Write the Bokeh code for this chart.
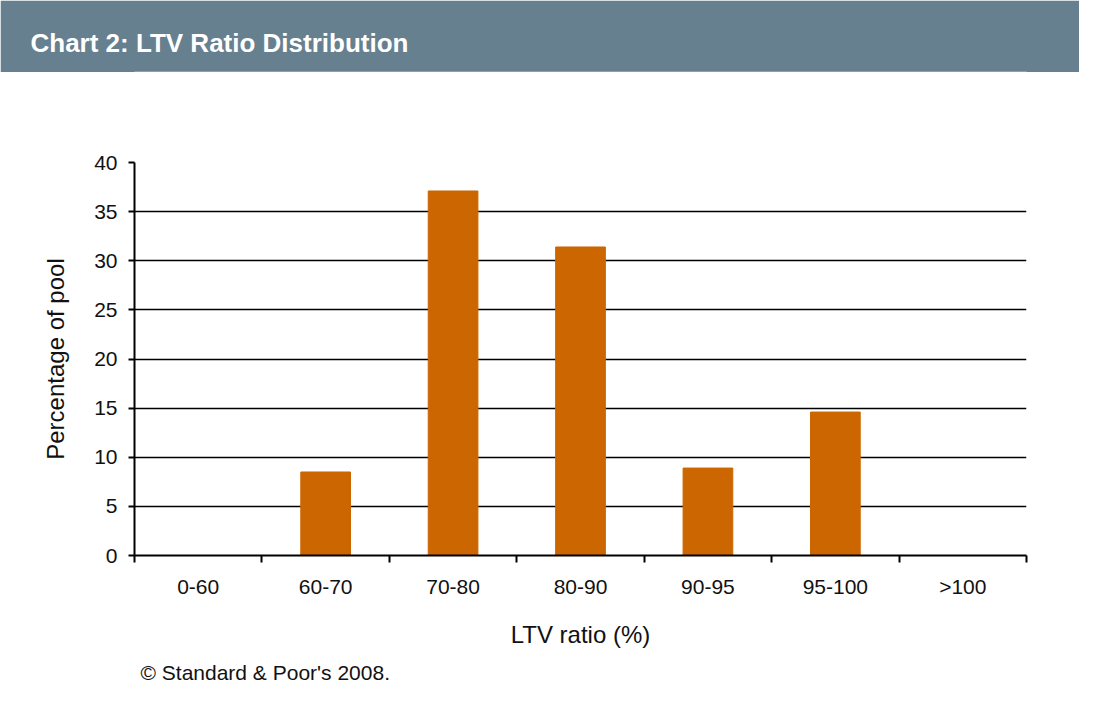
from bokeh.plotting import figure
from bokeh.models import FixedTicker, Range1d, ColumnDataSource, Title
from bokeh.layouts import column
from bokeh.embed import file_html
from bokeh.resources import INLINE

categories = ["0-60", "60-70", "70-80", "80-90", "90-95", "95-100", ">100"]
values = [0.0, 8.5, 37.1, 31.4, 8.9, 14.6, 0.0]
y_ticks = [0, 5, 10, 15, 20, 25, 30, 35, 40]

title_text = "Chart 2: LTV Ratio Distribution"
x_label = "LTV ratio (%)"
y_label = "Percentage of pool"
source_text = "\u00a9 Standard & Poor's 2008."

BAR = "#CC6600"
HEAD = "#66808F"
FONT = "Liberation Sans"

W = 1079
LEFT, RIGHT = 134, 1026
HEAD_H = 72

# Title bar: a figure whose frame is squeezed to the bottom edge, title in the top panel
head = figure(width=W, frame_height=1, x_range=Range1d(0, 1), y_range=Range1d(0, 1),
              output_backend="svg", toolbar_location=None,
              min_border_top=HEAD_H - 1, min_border_bottom=0)
head.axis.visible = False
head.grid.visible = False
head.outline_line_color = None
head.background_fill_color = HEAD
head.border_fill_color = HEAD
head.title = Title(text=title_text, align="left", offset=30 - LEFT, standoff=28,
                   text_color="white", text_font_style="bold", text_font_size="26px",
                   text_font=FONT)

# Main chart
n = len(categories)
xs = [i + 0.5 for i in range(n)]
src = ColumnDataSource(dict(x=xs, top=values, cat=categories))

p = figure(width=W, height=645, x_range=Range1d(0, n), y_range=Range1d(0, 40),
           output_backend="svg", toolbar_location=None,
           min_border_left=LEFT, min_border_right=W - RIGHT, min_border_top=162 - HEAD_H,
           min_border_bottom=645 - (162 - HEAD_H) - (555 - 162))
p.outline_line_color = None
p.background_fill_color = "white"
p.border_fill_color = "white"

p.vbar(x="x", top="top", width=0.39, source=src, fill_color=BAR, line_color=BAR)

p.xgrid.visible = False
p.ygrid.ticker = FixedTicker(ticks=y_ticks)
p.ygrid.grid_line_color = "black"
p.ygrid.grid_line_width = 1.6

p.yaxis.ticker = FixedTicker(ticks=y_ticks)
p.yaxis.major_tick_out = 6
p.yaxis.major_tick_in = 0
p.yaxis.minor_tick_line_color = None
p.yaxis.axis_line_width = 2
p.yaxis.major_tick_line_width = 2
p.yaxis.axis_line_color = "black"
p.yaxis.major_tick_line_color = "black"
p.yaxis.major_label_standoff = 11
p.yaxis.axis_label = y_label
p.yaxis.axis_label_standoff = 22

p.xaxis.ticker = FixedTicker(ticks=xs, minor_ticks=list(range(n + 1)))
p.xaxis.major_label_overrides = {x: c for x, c in zip(xs, categories)}
p.xaxis.major_tick_line_color = None
p.xaxis.major_tick_out = 7
p.xaxis.minor_tick_line_color = "black"
p.xaxis.minor_tick_line_width = 2
p.xaxis.minor_tick_out = 7
p.xaxis.minor_tick_in = 0
p.xaxis.axis_line_width = 2
p.xaxis.axis_line_color = "black"
p.xaxis.major_label_standoff = 12
p.xaxis.axis_label = x_label
p.xaxis.axis_label_standoff = 20

for ax in (p.xaxis[0], p.yaxis[0]):
    ax.major_label_text_font = FONT
    ax.major_label_text_font_size = "21px"
    ax.major_label_text_color = "#111111"
    ax.axis_label_text_font = FONT
    ax.axis_label_text_font_size = "24px"
    ax.axis_label_text_font_style = "normal"
    ax.axis_label_text_color = "#111111"

p.add_layout(Title(text=source_text, align="left", offset=6, standoff=16,
                   text_font=FONT, text_font_size="21px", text_color="#111111",
                   text_font_style="normal"), "below")

layout = column(head, p, spacing=0)
open("out.html", "w").write(file_html(layout, INLINE))
